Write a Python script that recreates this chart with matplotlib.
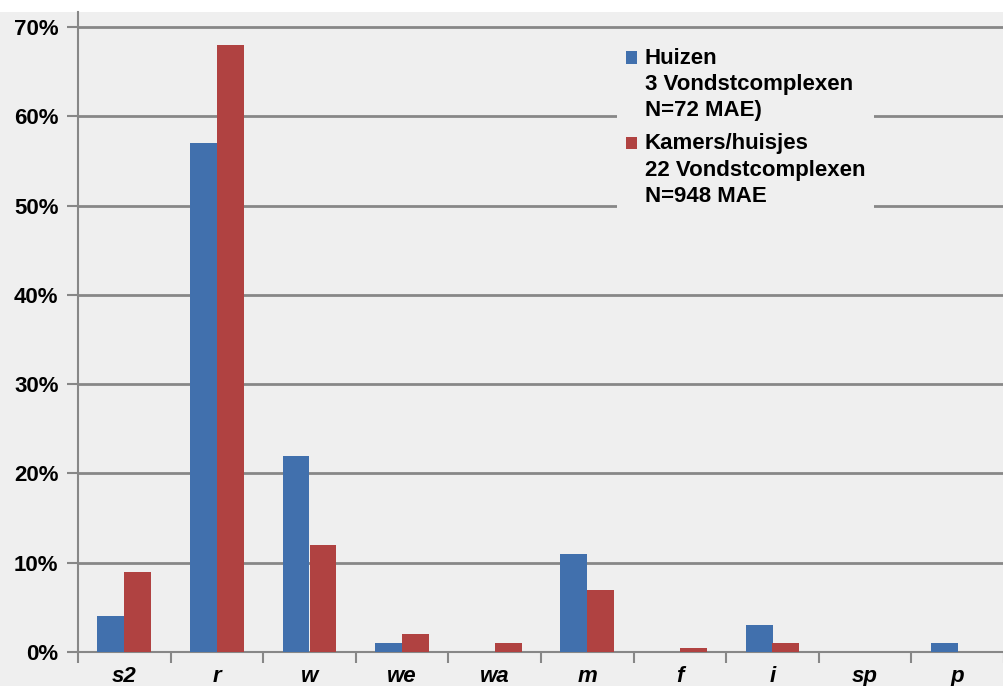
import numpy as np
import matplotlib.pyplot as plt
from matplotlib.patches import Rectangle
from matplotlib.container import BarContainer
from matplotlib.legend_handler import HandlerPatch, update_from_first_child
from matplotlib.ticker import PercentFormatter, FixedLocator

categories = ['s2', 'r', 'w', 'we', 'wa', 'm', 'f', 'i', 'sp', 'p']
huizen = [4, 57, 22, 1, 0, 11, 0, 3, 0, 1]
kamers = [9, 68, 12, 2, 1, 7, 0.4, 1, 0, 0]

label_huizen = 'Huizen\n3 Vondstcomplexen\nN=72 MAE)'
label_kamers = 'Kamers/huisjes\n22 Vondstcomplexen\nN=948 MAE'

blue = '#4170ad'
red = '#b04241'
bg = '#efefef'
line = '#878787'

LINESPACING = 1.32

plt.rcParams['font.family'] = ['Liberation Sans', 'DejaVu Sans']
plt.rcParams['font.weight'] = 'bold'

fig = plt.figure(figsize=(10.04, 6.86), dpi=100, facecolor=bg)
# white strip along the top edge
fig.add_artist(Rectangle((0, 1 - 12 / 686), 1, 12 / 686, transform=fig.transFigure,
                         facecolor='white', edgecolor='none', zorder=-1))

ax = fig.add_axes([78 / 1004, 1 - 652 / 686, 1 - 78 / 1004, (652 - 12) / 686])
ax.set_facecolor(bg)

x = np.arange(len(categories))
w = 0.29
ax.bar(x - w / 2, huizen, w, color=blue, label=label_huizen, zorder=3)
ax.bar(x + w / 2, kamers, w, color=red, label=label_kamers, zorder=3)

ax.set_xlim(-0.5, len(categories) - 0.5)
ax.set_ylim(0, 71.7)
ax.set_yticks(np.arange(0, 71, 10))
ax.yaxis.set_major_formatter(PercentFormatter(decimals=0))
ax.grid(axis='y', color=line, linewidth=2, zorder=1)

ax.set_xticks(x)
ax.set_xticklabels(categories, fontstyle='italic', fontweight='bold', fontsize=16)
ax.xaxis.set_minor_locator(FixedLocator(np.arange(-0.5, len(categories), 1)))
ax.tick_params(axis='x', which='major', length=0, pad=10)
ax.tick_params(axis='x', which='minor', length=8, width=1.5, color=line)
ax.tick_params(axis='y', length=8, width=1.5, color=line, labelsize=16, pad=6)

for side in ['top', 'right']:
    ax.spines[side].set_visible(False)
for side in ['left', 'bottom']:
    ax.spines[side].set_color(line)
    ax.spines[side].set_linewidth(1.5)


# legend square sits next to the first line of a three-line label
def top_square(legend, orig_handle, xdescent, ydescent, width, height, fontsize):
    return Rectangle((-xdescent, -ydescent + fontsize * LINESPACING * 0.93), width, height)


square_handler = HandlerPatch(patch_func=top_square, update_func=update_from_first_child)
leg = ax.legend(loc='upper left', bbox_to_anchor=(0.570, 0.975), fontsize=16,
                frameon=True, facecolor=bg, edgecolor='none', framealpha=1,
                handlelength=0.5, handleheight=0.5, handletextpad=0.35,
                labelspacing=0.55, borderpad=0.4, fancybox=False,
                handler_map={BarContainer: square_handler})
for t in leg.get_texts():
    t.set_linespacing(LINESPACING)
leg.set_zorder(5)

plt.savefig('out.png', dpi=100, facecolor=bg)
